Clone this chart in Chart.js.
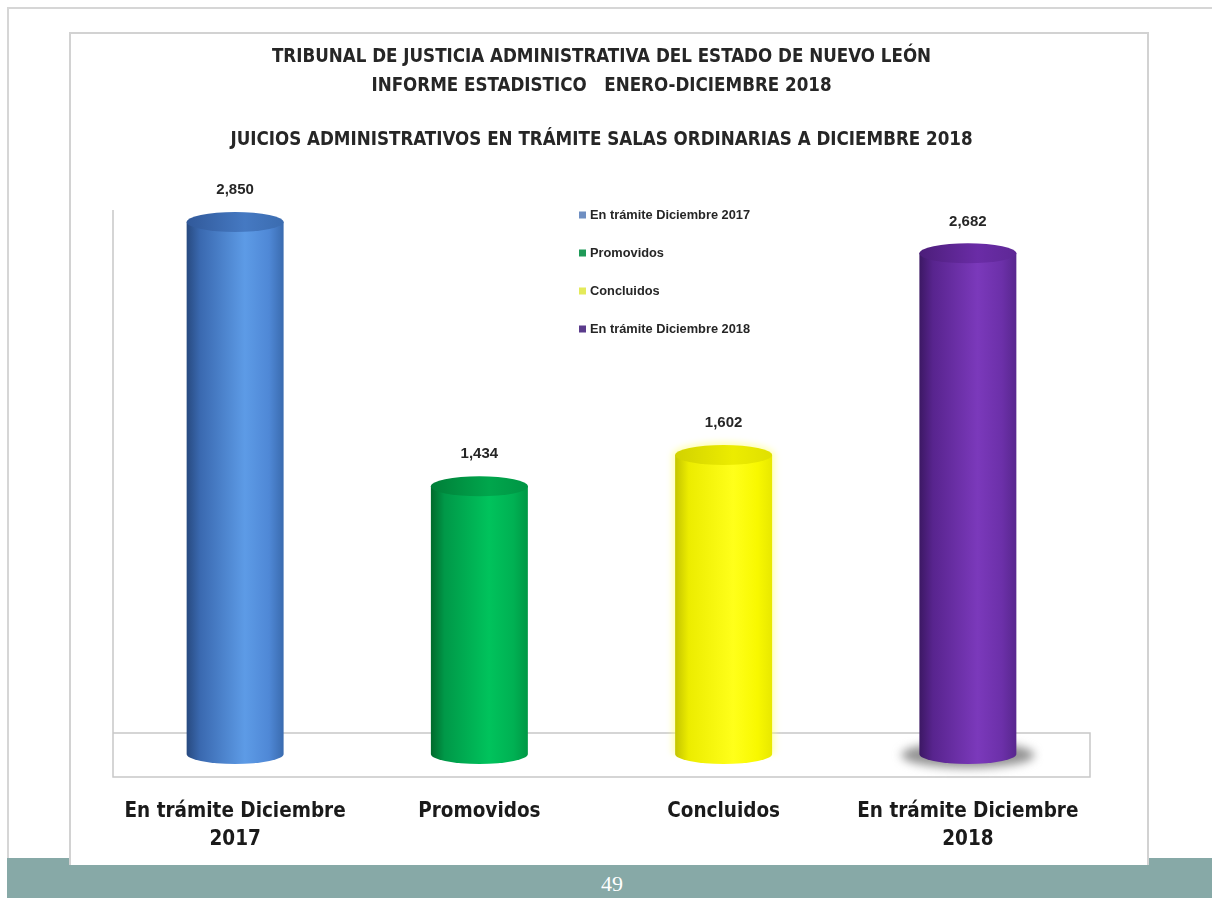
<!DOCTYPE html>
<html>
<head>
<meta charset="utf-8">
<script src="https://cdn.jsdelivr.net/npm/chart.js@4.4.1/dist/chart.umd.min.js"></script>
<style>
html,body{margin:0;padding:0;background:#fff;}
#page{position:relative;width:1212px;height:898px;overflow:hidden;}
#outer{position:absolute;left:7px;top:7px;width:1212px;height:900px;border:2px solid #d6d6d6;box-sizing:border-box;}
#band{position:absolute;left:7px;top:858px;width:1205px;height:40px;background:#87a9a7;}
#inner{position:absolute;left:69px;top:32px;width:1080px;height:833px;background:#fff;border:2px solid #d2d2d2;border-bottom:none;box-sizing:border-box;}
#pagenum{position:absolute;left:562px;width:100px;top:870px;height:28px;line-height:28px;text-align:center;color:#fff;font-family:"Liberation Serif","DejaVu Serif",serif;font-size:22px;}
#c{position:absolute;left:0;top:0;}
</style>
</head>
<body>
<div id="page">
  <div id="outer"></div>
  <div id="band"></div>
  <div id="inner"></div>
  <div id="pagenum">49</div>
  <canvas id="c" width="1212" height="898"></canvas>
</div>
<script>
// ---- data ----
const categories = [["En trámite Diciembre", "2017"], "Promovidos", "Concluidos", ["En trámite Diciembre", "2018"]];
const legendLabels = ["En trámite Diciembre 2017", "Promovidos", "Concluidos", "En trámite Diciembre 2018"];
const values = [2850, 1434, 1602, 2682];
const valueLabels = ["2,850", "1,434", "1,602", "2,682"];
const titleLines = ["TRIBUNAL DE JUSTICIA ADMINISTRATIVA DEL ESTADO DE NUEVO LEÓN", "INFORME ESTADISTICO   ENERO-DICIEMBRE 2018"];
const subtitleText = "JUICIOS ADMINISTRATIVOS EN TRÁMITE SALAS ORDINARIAS A DICIEMBRE 2018";

// ---- styles ----
const bodyStops = [
  [[0, '#284a80'], [0.14, '#3a69b0'], [0.6, '#5d9be6'], [0.85, '#4f88d6'], [1, '#3a6baf']],
  [[0, '#006a2c'], [0.14, '#009848'], [0.6, '#00c35c'], [0.85, '#00b153'], [1, '#009845']],
  [[0, '#c4c400'], [0.14, '#ecec00'], [0.6, '#ffff1a'], [0.85, '#f8f800'], [1, '#e8e800']],
  [[0, '#3c1864'], [0.14, '#58248e'], [0.6, '#7b39bb'], [0.85, '#6c30a9'], [1, '#58278e']]
];
const topStops = [
  [[0, '#31599a'], [0.6, '#4579c2'], [1, '#3b6cb0']],
  [[0, '#007e38'], [0.6, '#00a64c'], [1, '#009544']],
  [[0, '#d2d200'], [0.6, '#ecec00'], [1, '#e0e000']],
  [[0, '#4c1e7a'], [0.6, '#6a2ca6'], [1, '#5e2896']]
];
const legendColors = ['#6f8fc2', '#1f9a58', '#e4ea5a', '#5b3b8c'];
const RY = 10;
const FONT_NARROW = '"Liberation Sans Narrow", "DejaVu Sans Condensed", "Liberation Sans", sans-serif';
const BAR_PCT = 0.397;

function hGrad(ctx, x, w, stops) {
  const g = ctx.createLinearGradient(x - w / 2, 0, x + w / 2, 0);
  stops.forEach(s => g.addColorStop(s[0], s[1]));
  return g;
}

const cylinderPlugin = {
  id: 'cylinder',
  beforeDatasetsDraw(chart) {
    const ctx = chart.ctx, a = chart.chartArea;
    const base = chart.scales.y.getPixelForValue(0);
    ctx.save();
    // floor / back edge
    ctx.strokeStyle = '#c8c8c8';
    ctx.lineWidth = 1.5;
    ctx.beginPath();
    ctx.moveTo(a.left, a.top + 16);
    ctx.lineTo(a.left, base + 23);
    ctx.lineTo(a.right, base + 23);
    ctx.lineTo(a.right, base - 21);
    ctx.lineTo(a.left, base - 21);
    ctx.stroke();
    // shadow under last bar, glow around yellow bar
    const meta = chart.getDatasetMeta(0);
    const el3 = meta.data[3];
    ctx.filter = 'blur(5px)';
    ctx.fillStyle = 'rgba(120,120,120,0.8)';
    ctx.beginPath();
    ctx.ellipse(el3.x, base + 1, el3.width / 2 + 18, RY + 3, 0, 0, Math.PI * 2);
    ctx.fill();
    const el2 = meta.data[2];
    ctx.filter = 'blur(3px)';
    ctx.fillStyle = 'rgba(255,255,120,0.55)';
    ctx.beginPath();
    ctx.ellipse(el2.x, el2.y, el2.width / 2 + 3, RY + 3, 0, Math.PI, Math.PI * 2);
    ctx.rect(el2.x - el2.width / 2 - 3, el2.y, el2.width + 6, base - el2.y);
    ctx.fill();
    ctx.filter = 'none';
    ctx.restore();
  },
  afterDatasetsDraw(chart) {
    const ctx = chart.ctx;
    const base = chart.scales.y.getPixelForValue(0);
    const meta = chart.getDatasetMeta(0);
    ctx.save();
    meta.data.forEach((el, i) => {
      const x = el.x, w = el.width;
      // bottom rounded end
      ctx.fillStyle = hGrad(ctx, x, w, bodyStops[i]);
      ctx.beginPath();
      ctx.ellipse(x, base, w / 2, RY, 0, 0, Math.PI);
      ctx.fill();
      // top face
      ctx.fillStyle = hGrad(ctx, x, w, topStops[i]);
      ctx.beginPath();
      ctx.ellipse(x, el.y, w / 2, RY, 0, 0, Math.PI * 2);
      ctx.fill();
      // value label
      ctx.fillStyle = '#262626';
      ctx.font = 'bold 15px "Liberation Sans", "DejaVu Sans", sans-serif';
      ctx.textAlign = 'center';
      ctx.textBaseline = 'middle';
      ctx.fillText(valueLabels[i], x, el.y - RY - 22);
    });
    ctx.restore();
  },
  afterDraw(chart) {
    const ctx = chart.ctx;
    ctx.save();
    ctx.font = 'bold 12.8px "Liberation Sans", "DejaVu Sans", sans-serif';
    ctx.textBaseline = 'middle';
    ctx.textAlign = 'left';
    legendLabels.forEach((t, i) => {
      const y = 215 + i * 38;
      ctx.fillStyle = legendColors[i];
      ctx.fillRect(579, y - 3.5, 7, 7);
      ctx.fillStyle = '#262626';
      ctx.fillText(t, 590, y);
    });
    ctx.restore();
  }
};

new Chart(document.getElementById('c'), {
  type: 'bar',
  data: {
    labels: categories,
    datasets: [{
      label: 'Juicios',
      data: values,
      categoryPercentage: 1,
      barPercentage: BAR_PCT,
      borderWidth: 0,
      backgroundColor: (c) => {
        const chart = c.chart;
        if (!chart.chartArea) return '#888';
        const xs = chart.scales.x;
        const x = xs.getPixelForValue(c.dataIndex);
        const w = xs.width / categories.length * BAR_PCT;
        return hGrad(chart.ctx, x, w, bodyStops[c.dataIndex]);
      }
    }]
  },
  options: {
    responsive: false,
    animation: false,
    events: [],
    layout: { padding: { left: 113, right: 122, top: 0, bottom: 44 } },
    plugins: {
      legend: { display: false },
      tooltip: { enabled: false },
      title: {
        display: true,
        text: titleLines,
        color: '#262626',
        font: { family: FONT_NARROW, size: 18.6, weight: 'bold', lineHeight: 29 / 18.6 },
        padding: { top: 42.5, bottom: 25 }
      },
      subtitle: {
        display: true,
        text: subtitleText,
        color: '#262626',
        font: { family: FONT_NARROW, size: 18.6, weight: 'bold', lineHeight: 29 / 18.6 },
        padding: { top: 0, bottom: 39.5 }
      }
    },
    scales: {
      x: {
        grid: { display: false, drawTicks: false },
        border: { display: false },
        ticks: {
          color: '#1a1a1a',
          padding: 44,
          maxRotation: 0,
          font: { family: FONT_NARROW, size: 20.5, weight: 'bold', lineHeight: 28 / 20.5 }
        },
        afterFit(scale) { scale.height = 100; }
      },
      y: {
        display: false,
        min: 0,
        max: 3000
      }
    }
  },
  plugins: [cylinderPlugin]
});
</script>
</body>
</html>
